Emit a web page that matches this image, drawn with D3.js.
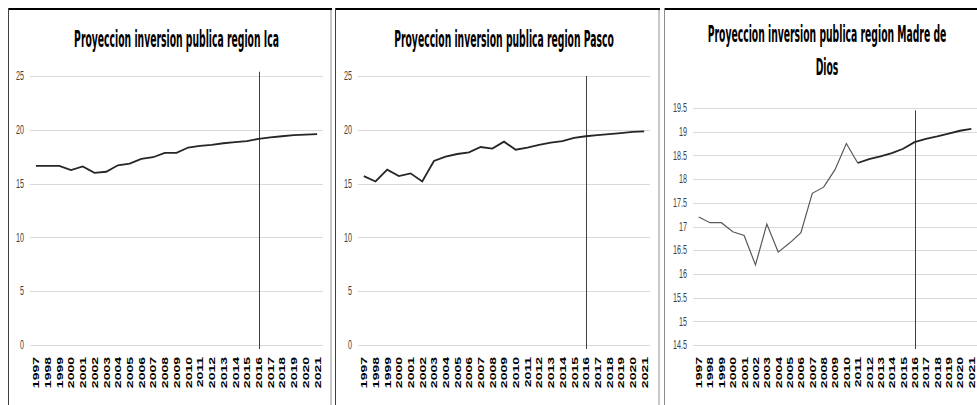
<!DOCTYPE html>
<html>
<head>
<meta charset="utf-8">
<script src="https://cdn.jsdelivr.net/npm/d3@7"></script>
<style>
    body { margin: 0; background: #fff; }
    svg { display: block; }
</style>
</head>
<body>
<div id="chart"></div>
<script>
// data
var years = ['1997', '1998', '1999', '2000', '2001', '2002', '2003', '2004', '2005', '2006', '2007', '2008', '2009',
    '2010', '2011', '2012', '2013', '2014', '2015', '2016', '2017', '2018', '2019', '2020', '2021'];
var icaValues = [16.65, 16.65, 16.65, 16.25, 16.6, 16.0, 16.1, 16.7, 16.85, 17.3, 17.45, 17.85, 17.85,
    18.35, 18.5, 18.6, 18.75, 18.85, 18.95, 19.15, 19.3, 19.4, 19.5, 19.55, 19.6];
var pascoValues = [15.7, 15.2, 16.3, 15.7, 15.95, 15.2, 17.1, 17.5, 17.75, 17.9, 18.4, 18.25, 18.9,
    18.15, 18.35, 18.6, 18.8, 18.95, 19.25, 19.4, 19.5, 19.6, 19.7, 19.8, 19.85];
var madreValues = [17.2, 17.08, 17.08, 16.89, 16.81, 16.19, 17.05, 16.46, 16.65, 16.87, 17.7, 17.83, 18.2,
    18.75, 18.34, 18.42, 18.48, 18.55, 18.64, 18.78, 18.85, 18.9, 18.96, 19.02, 19.06];
var wideTicks = [0, 5, 10, 15, 20, 25];
var madreTicks = [14.5, 15, 15.5, 16, 16.5, 17, 17.5, 18, 18.5, 19, 19.5];
var forecastYear = '2016';
var markerTops = [25.4, 25, 19.45];
var titles = [
    ['Proyeccion inversion publica region Ica'],
    ['Proyeccion inversion publica region Pasco'],
    ['Proyeccion inversion publica region Madre de', 'Dios']
];

var width = 977;
var height = 405;
var textSquash = 0.6;
var labelSquash = 0.68;

var panels = [
    { left: 8, right: 332, plotLeft: 30, plotRight: 323, top: 76, bottom: 345,
      domain: [0, 25], ticks: wideTicks, values: icaValues, titleY: [47], heavyFrom: null },
    { left: 335, right: 660, plotLeft: 358, plotRight: 650, top: 76, bottom: 345,
      domain: [0, 25], ticks: wideTicks, values: pascoValues, titleY: [47], heavyFrom: null },
    { left: 664, right: 990, plotLeft: 693, plotRight: 977, top: 108, bottom: 345,
      domain: [14.5, 19.5], ticks: madreTicks, values: madreValues, titleY: [42, 75], heavyFrom: '2011' }
];

var svg = d3.select('#chart')
    .append('svg')
    .attr('width', width)
    .attr('height', height);

svg.append('rect').attr('width', width).attr('height', height).attr('fill', '#fff');

var titleScale = null;

panels.forEach(function(p, i) {
    var g = svg.append('g');

    // frame
    g.append('line').attr('x1', p.left).attr('x2', p.right).attr('y1', 9).attr('y2', 9)
        .attr('stroke', '#000').attr('stroke-width', 2);
    g.append('line').attr('x1', p.left + 0.5).attr('x2', p.left + 0.5).attr('y1', 8).attr('y2', height)
        .attr('stroke', i == 2 ? '#8c8c8c' : '#404040').attr('stroke-width', 1);
    g.append('line').attr('x1', p.right - 1).attr('x2', p.right - 1).attr('y1', 10).attr('y2', height)
        .attr('stroke', '#c8c8c8').attr('stroke-width', 2);

    var xScale = d3.scaleBand().domain(years).range([p.plotLeft, p.plotRight]);
    var yScale = d3.scaleLinear().domain(p.domain).range([p.bottom, p.top]);
    var cx = function(d) { return xScale(d) + xScale.bandwidth() / 2; };

    // gridlines
    g.append('g')
        .selectAll('line')
        .data(p.ticks)
        .enter()
        .append('line')
        .attr('x1', p.plotLeft)
        .attr('x2', p.plotRight)
        .attr('y1', function(d) { return Math.round(yScale(d)) + 0.5; })
        .attr('y2', function(d) { return Math.round(yScale(d)) + 0.5; })
        .attr('stroke', '#d9d9d9')
        .attr('stroke-width', 1);

    // y tick labels
    g.append('g')
        .selectAll('g')
        .data(p.ticks)
        .enter()
        .append('g')
        .attr('transform', function(d) {
            return 'translate(' + (p.plotLeft - 6) + ',' + yScale(d) + ') scale(' + textSquash + ',1)';
        })
        .append('text')
        .attr('text-anchor', 'end')
        .attr('dy', '0.35em')
        .attr('font-family', 'Liberation Sans, Arial, sans-serif')
        .attr('font-size', 12)
        .attr('fill', '#404040')
        .text(function(d) { return d; });

    // x tick labels
    g.append('g')
        .selectAll('g')
        .data(years)
        .enter()
        .append('g')
        .attr('transform', function(d) {
            return 'translate(' + cx(d) + ',' + (p.bottom + 12) + ') scale(' + labelSquash + ',1)';
        })
        .append('text')
        .attr('transform', 'rotate(-90)')
        .attr('text-anchor', 'end')
        .attr('dy', '0.36em')
        .attr('font-family', 'Liberation Sans, Arial, sans-serif')
        .attr('font-weight', 'bold')
        .attr('font-size', 14)
        .attr('fill', '#000')
        .text(function(d) { return d; });

    // forecast marker
    g.append('line')
        .attr('x1', Math.round(cx(forecastYear)) + 0.5)
        .attr('x2', Math.round(cx(forecastYear)) + 0.5)
        .attr('y1', yScale(markerTops[i]))
        .attr('y2', p.bottom + 4)
        .attr('stroke', '#404040')
        .attr('stroke-width', 1);

    // series line
    var points = years.map(function(y, k) { return { year: y, value: p.values[k] }; });
    var line = d3.line()
        .x(function(d) { return cx(d.year); })
        .y(function(d) { return yScale(d.value); });

    if (p.heavyFrom) {
        var cut = years.indexOf(p.heavyFrom);
        g.append('path').datum(points.slice(0, cut + 1)).attr('d', line)
            .attr('fill', 'none').attr('stroke', '#595959').attr('stroke-width', 1.2);
        g.append('path').datum(points.slice(cut)).attr('d', line)
            .attr('fill', 'none').attr('stroke', '#262626').attr('stroke-width', 1.8);
    } else {
        g.append('path').datum(points).attr('d', line)
            .attr('fill', 'none').attr('stroke', '#262626').attr('stroke-width', 1.8);
    }

    // title
    var titleCenter = (p.plotLeft + Math.min(p.plotRight, width)) / 2 + (i == 2 ? -8 : 0);
    titles[i].forEach(function(t, k) {
        var tg = g.append('g');
        var txt = tg.append('text')
            .attr('text-anchor', 'middle')
            .attr('font-family', 'Liberation Sans Narrow, DejaVu Sans Condensed, Arial Narrow, sans-serif')
            .attr('font-weight', 'bold')
            .attr('font-size', 23)
            .attr('fill', '#000')
            .text(t);
        if (titleScale === null) {
            titleScale = 205 / txt.node().getComputedTextLength();
        }
        tg.attr('transform', 'translate(' + titleCenter + ',' + p.titleY[k] + ') scale(' + titleScale + ',1)');
    });
});
</script>
</body>
</html>
